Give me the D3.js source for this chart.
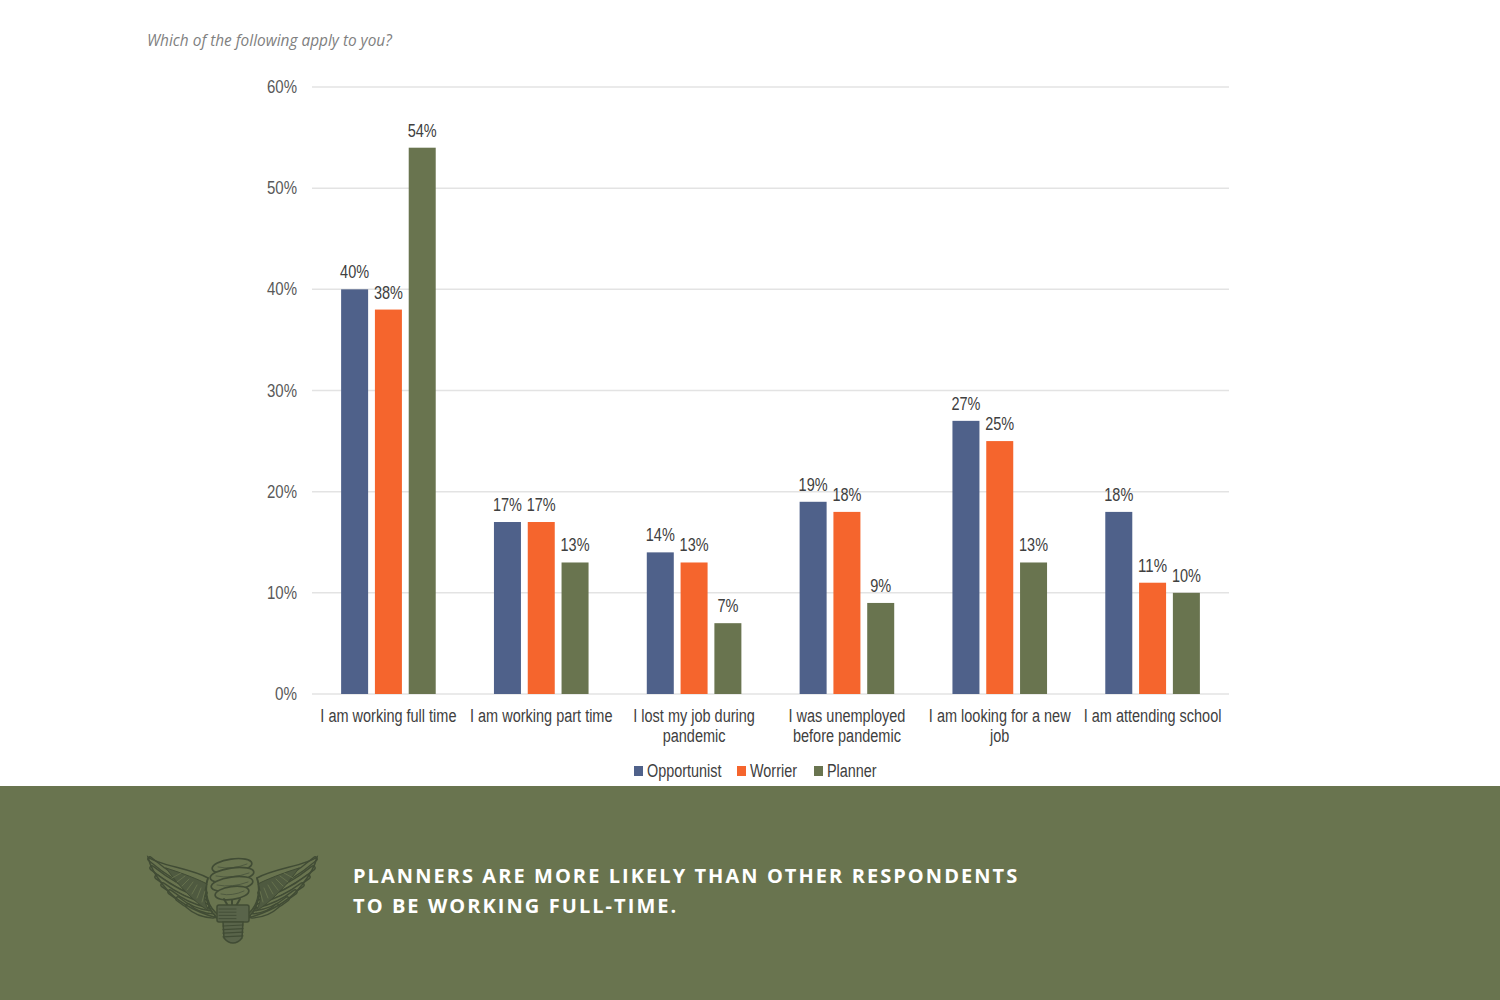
<!DOCTYPE html>
<html>
<head>
<meta charset="utf-8">
<script src="https://cdn.jsdelivr.net/npm/d3@7"></script>
<style>
body { margin: 0; background: #fff; }
svg { display: block; }
</style>
</head>
<body>
<svg id="chart" width="1500" height="1000"></svg>
<script>
const categories = [
	["I am working full time"],
	["I am working part time"],
	["I lost my job during", "pandemic"],
	["I was unemployed", "before pandemic"],
	["I am looking for a new", "job"],
	["I am attending school"],
];
const seriesNames = ["Opportunist", "Worrier", "Planner"];
const seriesColors = ["#4f618a", "#f5652d", "#69744f"];
const opportunist = [40, 17, 14, 19, 27, 18];
const worrier = [38, 17, 13, 18, 25, 11];
const planner = [54, 13, 7, 9, 13, 10];
const yTicks = [0, 10, 20, 30, 40, 50, 60];
const allSeries = [opportunist, worrier, planner];

const svg = d3.select("#chart");
const chartFont = "'Liberation Sans', Arial, sans-serif";

// Squeeze a text to the narrow look of the original labels
function narrow(sel, factor) {
	sel.each(function () {
		const w = this.getComputedTextLength();
		d3.select(this)
			.attr("textLength", w * factor)
			.attr("lengthAdjust", "spacingAndGlyphs");
	});
}

svg.append("text")
	.attr("x", 147)
	.attr("y", 46)
	.attr("font-family", "'Open Sans'")
	.attr("font-style", "italic")
	.attr("font-size", 15.4)
	.attr("fill", "#7f7f7f")
	.text("Which of the following apply to you?");

const x = d3.scaleBand().domain(d3.range(categories.length)).range([312, 1229]);
const y = d3.scaleLinear().domain([0, 60]).range([694, 87]);

// Gridlines
svg.append("g")
	.selectAll("line")
	.data(yTicks)
	.enter()
	.append("line")
	.attr("x1", 312)
	.attr("x2", 1229)
	.attr("y1", (d) => y(d))
	.attr("y2", (d) => y(d))
	.attr("stroke", "#e3e3e3")
	.attr("stroke-width", 1.5);

svg.append("g")
	.selectAll("text")
	.data(yTicks)
	.enter()
	.append("text")
	.attr("x", 297)
	.attr("y", (d) => y(d) + 6)
	.attr("text-anchor", "end")
	.attr("font-family", chartFont)
	.attr("font-size", 18)
	.attr("fill", "#595959")
	.attr("textLength", (d) => (d === 0 ? 22 : 30))
	.attr("lengthAdjust", "spacingAndGlyphs")
	.text((d) => d + "%");

// Bars and value labels
const barWidth = 27;
const barStep = 33.8;
allSeries.forEach((values, s) => {
	const g = svg.append("g");
	const barX = (i) => x(i) + x.bandwidth() / 2 - barWidth / 2 + (s - 1) * barStep;
	g.selectAll("rect")
		.data(values)
		.enter()
		.append("rect")
		.attr("x", (d, i) => barX(i))
		.attr("y", (d) => y(d))
		.attr("width", barWidth)
		.attr("height", (d) => y(0) - y(d))
		.attr("fill", seriesColors[s]);
	g.selectAll("text")
		.data(values)
		.enter()
		.append("text")
		.attr("x", (d, i) => barX(i) + barWidth / 2)
		.attr("y", (d) => y(d) - 11)
		.attr("text-anchor", "middle")
		.attr("font-family", chartFont)
		.attr("font-size", 18)
		.attr("fill", "#404040")
		.attr("textLength", (d) => (d < 10 ? 21 : 29))
		.attr("lengthAdjust", "spacingAndGlyphs")
		.text((d) => d + "%");
});

// Category labels
categories.forEach((lines, i) => {
	lines.forEach((line, k) => {
		svg.append("text")
			.attr("x", x(i) + x.bandwidth() / 2)
			.attr("y", 722 + k * 20)
			.attr("text-anchor", "middle")
			.attr("font-family", chartFont)
			.attr("font-size", 18)
			.attr("fill", "#404040")
			.text(line)
			.call(narrow, 0.805);
	});
});

// Legend
const legendX = [634, 737, 814];
seriesNames.forEach((name, s) => {
	svg.append("rect")
		.attr("x", legendX[s])
		.attr("y", 766)
		.attr("width", 9)
		.attr("height", 10)
		.attr("fill", seriesColors[s]);
	svg.append("text")
		.attr("x", legendX[s] + 13)
		.attr("y", 777)
		.attr("font-family", chartFont)
		.attr("font-size", 18)
		.attr("fill", "#404040")
		.text(name)
		.call(narrow, 0.8);
});

// Footer band
svg.append("rect")
	.attr("x", 0)
	.attr("y", 786)
	.attr("width", 1500)
	.attr("height", 214)
	.attr("fill", "#69744f");

const footerLines = [
	"PLANNERS ARE MORE LIKELY THAN OTHER RESPONDENTS",
	"TO BE WORKING FULL-TIME.",
];
svg.append("g")
	.selectAll("text")
	.data(footerLines)
	.enter()
	.append("text")
	.attr("x", 353)
	.attr("y", (d, i) => 883 + i * 30)
	.attr("font-family", "'Open Sans'")
	.attr("font-weight", 700)
	.attr("font-size", 20)
	.attr("letter-spacing", 2.06)
	.attr("fill", "#fff")
	.text((d) => d);

// Winged light bulb emblem
const ink = "#414c35";
const logo = svg.append("g")
	.attr("fill", "none")
	.attr("stroke", ink)
	.attr("stroke-width", 1.5)
	.attr("stroke-linecap", "round");

[0, 1].forEach((side) => {
	// left wing is drawn as is, right wing mirrored around the bulb axis
	const wing = logo.append("g")
		.attr("transform", side ? "translate(465,0) scale(-1,1)" : null);
	const feathers = [
		[150, 859, 205, 893],
		[152, 868, 205, 898],
		[157, 877, 206, 902],
		[163, 885, 207, 906],
		[170, 892, 208, 910],
		[178, 899, 210, 913],
		[188, 906, 213, 916],
	];
	feathers.forEach(([x1, y1, x2, y2]) => {
		wing.append("path")
			.attr("d", `M${x1},${y1} Q${(x1 + x2) / 2 - 3},${(y1 + y2) / 2 + 4} ${x2},${y2}`)
			.attr("stroke-width", 5.5);
		wing.append("path")
			.attr("d", `M${x1},${y1} Q${(x1 + x2) / 2 - 3},${(y1 + y2) / 2 + 4} ${x2},${y2}`)
			.attr("stroke", "#69744f")
			.attr("stroke-width", 2.8);
	});
	// Upper edge of the wing and the inner downy part
	wing.append("path")
		.attr("d", "M148,857 C160,866 190,868 208,878 C203,890 205,905 217,918 C196,912 176,902 163,885 C155,875 150,866 148,857 Z")
		.attr("fill", "none");
	wing.append("path")
		.attr("d", "M166,868 C182,873 200,880 207,884 C203,893 204,903 209,911 C195,903 178,885 166,868 Z")
		.attr("fill", "#4f5a40")
		.attr("stroke-width", 1);
	d3.range(7).forEach((k) => {
		wing.append("path")
			.attr("d", `M${172 + k * 5},${878 + k * 4} L${181 + k * 4},${873 + k * 3}`)
			.attr("stroke", "#69744f")
			.attr("stroke-width", 0.9);
	});
	wing.append("path")
		.attr("d", "M208,878 C204,892 207,908 220,916")
		.attr("stroke-width", 1.6);
});

// Spiral tube of the bulb
const coils = [
	[232, 866, 20, 7],
	[232, 875, 22, 7],
	[232, 884, 21, 7],
	[232, 893, 17, 6.5],
];
coils.forEach(([cx, cy, rx, ry]) => {
	logo.append("ellipse")
		.attr("cx", cx)
		.attr("cy", cy)
		.attr("rx", rx)
		.attr("ry", ry)
		.attr("transform", `rotate(-8 ${cx} ${cy})`)
		.attr("fill", "#69744f")
		.attr("stroke-width", 1.7);
	logo.append("path")
		.attr("d", `M${cx - rx + 6},${cy + 1} Q${cx},${cy + ry - 3} ${cx + rx - 5},${cy - 2}`)
		.attr("stroke", "#4f5a40")
		.attr("stroke-width", 1);
});
logo.append("path")
	.attr("d", "M224,899 L228,906 M240,899 L236,906 M232,900 L232,906")
	.attr("stroke-width", 2);

// Collar and screw base
logo.append("rect")
	.attr("x", 217)
	.attr("y", 905)
	.attr("width", 32)
	.attr("height", 17)
	.attr("rx", 2)
	.attr("fill", "#59644a");
d3.range(4).forEach((k) => {
	logo.append("line")
		.attr("x1", 219)
		.attr("x2", 236)
		.attr("y1", 909 + k * 3.2)
		.attr("y2", 909 + k * 3.2)
		.attr("stroke-width", 0.9);
});
logo.append("path")
	.attr("d", "M223,922 L243,922 L242,938 Q238,943 233,943 Q228,943 224,938 Z")
	.attr("fill", "#59644a");
d3.range(4).forEach((k) => {
	logo.append("line")
		.attr("x1", 223)
		.attr("x2", 243)
		.attr("y1", 926 + k * 3.6)
		.attr("y2", 925 + k * 3.6)
		.attr("stroke-width", 1.2);
});
</script>
</body>
</html>
